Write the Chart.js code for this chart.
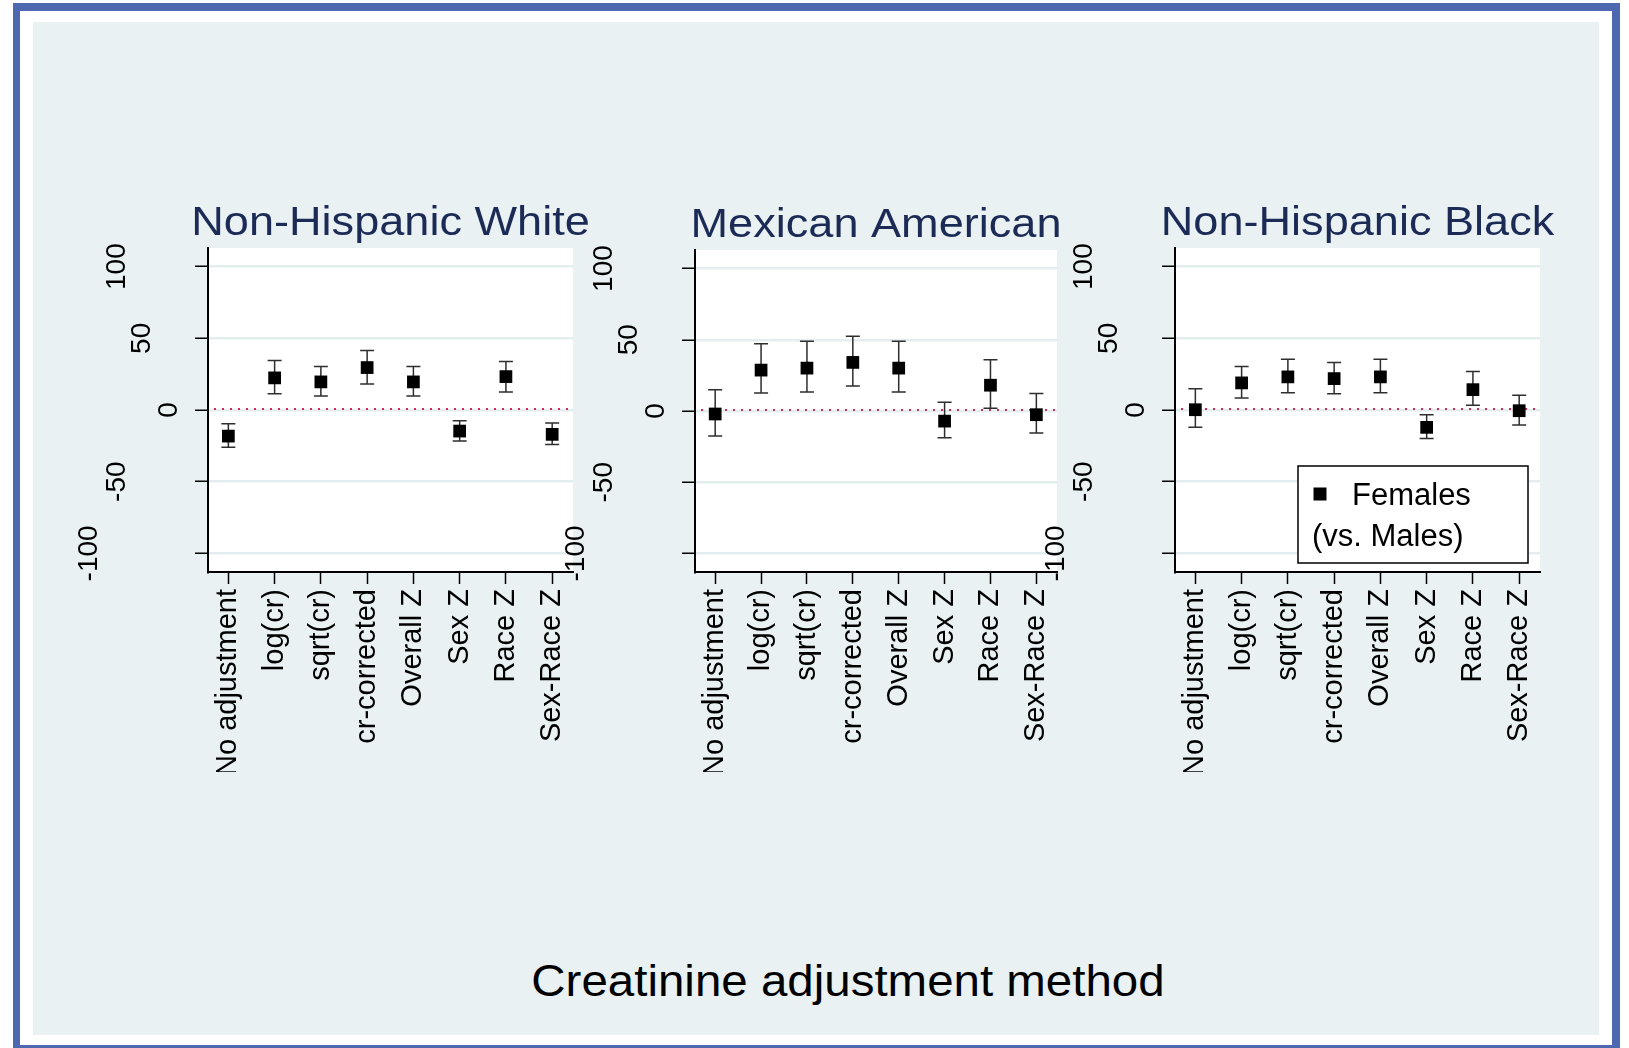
<!DOCTYPE html>
<html>
<head>
<meta charset="utf-8">
<title>Creatinine adjustment method</title>
<script src="https://cdn.jsdelivr.net/npm/chart.js@4.4.1/dist/chart.umd.min.js"></script>
<style>
  body { margin: 0; width: 1629px; height: 1048px; overflow: hidden; background: #fff; position: relative;
         font-family: "Liberation Sans", Arial, sans-serif; }
  #frame { position: absolute; left: 13px; top: 3px; width: 1607px; height: 1045px; box-sizing: border-box;
           border: solid #4e68b0; border-width: 8px 8px 3px 7px; }
  #bg { position: absolute; left: 33px; top: 22px; width: 1566px; height: 1013px; background: #e9f1f3; }
  .panel { position: absolute; top: 170px; height: 620px; }
  #xtitle { position: absolute; left: 448px; width: 800px; top: 958px; text-align: center;
            font-size: 45px; line-height: 45px; color: #000; transform: scaleX(1.055); }
</style>
</head>
<body>
<div id="frame"></div>
<div id="bg"></div>
<div class="panel" id="p0"><canvas id="c0"></canvas></div>
<div class="panel" id="p1"><canvas id="c1"></canvas></div>
<div class="panel" id="p2"><canvas id="c2"></canvas></div>
<div id="xtitle"></div>
<script>
// categories and panels
const methods = ['No adjustment', 'log(cr)', 'sqrt(cr)', 'cr-corrected', 'Overall Z', 'Sex Z', 'Race Z', 'Sex-Race Z'];
const groupNames = ['Non-Hispanic White', 'Mexican American', 'Non-Hispanic Black'];
const yTicks = [-100, -50, 0, 50, 100];
const legendLines = ['Females', '(vs. Males)'];
const xTitle = 'Creatinine adjustment method';

// % difference females vs males, with 95% CI
const whiteEst  = [-18.2, 22.4, 19.6, 29.6, 19.6, -14.7, 23.3, -17.0];
const whiteLow  = [-25.9, 11.4,  9.8, 18.2,  9.8, -21.7, 12.6, -24.0];
const whiteHigh = [ -9.6, 34.5, 30.3, 41.5, 30.3,  -7.5, 33.8,  -9.1];

const mexEst  = [ -2.1, 28.7, 30.1, 34.1, 30.1,  -7.1, 18.1,  -2.6];
const mexLow  = [-17.6, 12.7, 13.4, 17.6, 13.4, -18.8,  1.9, -15.5];
const mexHigh = [ 15.0, 47.2, 48.9, 52.4, 48.9,   6.1, 36.0,  12.2];

const blackEst  = [  0.2, 18.9, 23.1, 21.9, 23.1, -12.1, 14.2,  -0.5];
const blackLow  = [-12.1,  8.4, 12.1, 11.4, 12.1, -19.8,  3.3, -10.5];
const blackHigh = [ 14.9, 30.3, 35.4, 33.1, 35.4,  -3.3, 26.8,  10.3];

// plot area edges on the page
const panelBoxes = [
    {left: 208, right: 573, top: 248},
    {left: 695, right: 1057, top: 250},
    {left: 1175, right: 1540, top: 248}
];
const plotBottom = 572;
// horizontal offset of each rotated y label from the axis (same order as yTicks)
const yLabelShift = [-118.5, -91, -38.5, -65.5, -90.5];

Chart.defaults.font.family = '"Liberation Sans", Arial, sans-serif';
Chart.defaults.color = '#000';

document.getElementById('xtitle').textContent = xTitle;

function makeDecor(k, low, high, withLegend) {
    return {
        id: 'decor' + k,
        beforeDraw: function (chart) {
            var a = chart.chartArea, ctx = chart.ctx;
            ctx.save();
            ctx.fillStyle = '#fff';
            ctx.fillRect(a.left, a.top, a.right - a.left, a.bottom - a.top);
            ctx.restore();
        },
        beforeDatasetsDraw: function (chart) {
            var a = chart.chartArea, ctx = chart.ctx;
            var xs = chart.scales.x, ys = chart.scales.y;
            ctx.save();
            // reference line at zero
            var y0 = ys.getPixelForValue(0) - 1;
            ctx.strokeStyle = '#d42a57';
            ctx.lineWidth = 2;
            ctx.setLineDash([2, 6]);
            ctx.beginPath();
            ctx.moveTo(a.left + 6, y0);
            ctx.lineTo(a.right, y0);
            ctx.stroke();
            ctx.setLineDash([]);
            // confidence intervals
            ctx.strokeStyle = '#2e2e2e';
            ctx.lineWidth = 1.5;
            for (var i = 0; i < low.length; i++) {
                var px = xs.getPixelForValue(i + 1);
                var top = ys.getPixelForValue(high[i]);
                var bot = ys.getPixelForValue(low[i]);
                ctx.beginPath();
                ctx.moveTo(px, top); ctx.lineTo(px, bot);
                ctx.moveTo(px - 7, top); ctx.lineTo(px + 7, top);
                ctx.moveTo(px - 7, bot); ctx.lineTo(px + 7, bot);
                ctx.stroke();
            }
            ctx.restore();
        },
        afterDraw: function (chart) {
            var a = chart.chartArea, ctx = chart.ctx, ys = chart.scales.y;
            ctx.save();
            // panel title (the original lettering is a little wide)
            ctx.save();
            ctx.translate((a.left + a.right) / 2, a.top - 13);
            ctx.scale(1.1, 1);
            ctx.font = '41px "Liberation Sans", Arial, sans-serif';
            ctx.fillStyle = '#1c2a56';
            ctx.textAlign = 'center';
            ctx.textBaseline = 'alphabetic';
            ctx.fillText(groupNames[k], 0, 0);
            ctx.restore();
            // vertical y labels
            ctx.font = '28px "Liberation Sans", Arial, sans-serif';
            ctx.fillStyle = '#000';
            ctx.textAlign = 'center';
            ctx.textBaseline = 'middle';
            yTicks.forEach(function (v, j) {
                ctx.save();
                ctx.translate(a.left + yLabelShift[j], ys.getPixelForValue(v));
                ctx.rotate(-Math.PI / 2);
                ctx.fillText(String(v), 0, 0);
                ctx.restore();
            });
            if (withLegend) {
                var lx = a.left + 123, ly = a.top + 218;
                ctx.fillStyle = '#fff';
                ctx.fillRect(lx, ly, 230, 97);
                ctx.strokeStyle = '#000';
                ctx.lineWidth = 1.5;
                ctx.strokeRect(lx, ly, 230, 97);
                ctx.fillStyle = '#000';
                ctx.fillRect(lx + 15.5, ly + 21.5, 13, 13);
                ctx.font = '31px "Liberation Sans", Arial, sans-serif';
                ctx.textAlign = 'left';
                ctx.textBaseline = 'alphabetic';
                ctx.fillText(legendLines[0], lx + 54, ly + 39);
                ctx.fillText(legendLines[1], lx + 14, ly + 80);
            }
            ctx.restore();
        }
    };
}

function makeChart(k, est, low, high, withLegend) {
    var box = panelBoxes[k];
    var wrap = document.getElementById('p' + k);
    wrap.style.left = (box.left - 150) + 'px';
    wrap.style.width = (box.right - box.left + 190) + 'px';

    return new Chart(document.getElementById('c' + k), {
        type: 'scatter',
        data: {
            datasets: [{
                label: legendLines.join(' '),
                data: est.map(function (v, i) { return {x: i + 1, y: v}; }),
                pointStyle: 'rect',
                pointRadius: 9,
                pointHoverRadius: 9,
                backgroundColor: '#000',
                borderWidth: 0
            }]
        },
        options: {
            responsive: true,
            maintainAspectRatio: false,
            animation: false,
            events: [],
            layout: {
                padding: {left: 150, right: 40, top: box.top - 170, bottom: 620 - (plotBottom - 170) - 200}
            },
            plugins: {
                legend: {display: false},
                tooltip: {enabled: false}
            },
            scales: {
                x: {
                    type: 'linear',
                    min: 0.56,
                    max: 8.45,
                    afterBuildTicks: function (s) {
                        s.ticks = methods.map(function (m, i) { return {value: i + 1}; });
                    },
                    afterFit: function (s) { s.height = 200; },
                    ticks: {
                        callback: function (v) { return methods[v - 1]; },
                        minRotation: 90,
                        maxRotation: 90,
                        autoSkip: false,
                        padding: 5,
                        color: '#000',
                        font: {size: 29}
                    },
                    grid: {drawOnChartArea: false, tickLength: 12, tickColor: '#000', tickWidth: 1.5},
                    border: {color: '#000', width: 2}
                },
                y: {
                    min: -113,
                    max: 113,
                    afterBuildTicks: function (s) {
                        s.ticks = yTicks.map(function (v) { return {value: v}; });
                    },
                    afterFit: function (s) { s.width = 0; },
                    ticks: {display: false},
                    grid: {color: '#e4edf0', lineWidth: 2.5, tickLength: 13, tickColor: '#000', tickWidth: 1.5},
                    border: {color: '#000', width: 2}
                }
            }
        },
        plugins: [makeDecor(k, low, high, withLegend)]
    });
}

makeChart(0, whiteEst, whiteLow, whiteHigh, false);
makeChart(1, mexEst, mexLow, mexHigh, false);
makeChart(2, blackEst, blackLow, blackHigh, true);
</script>
</body>
</html>
